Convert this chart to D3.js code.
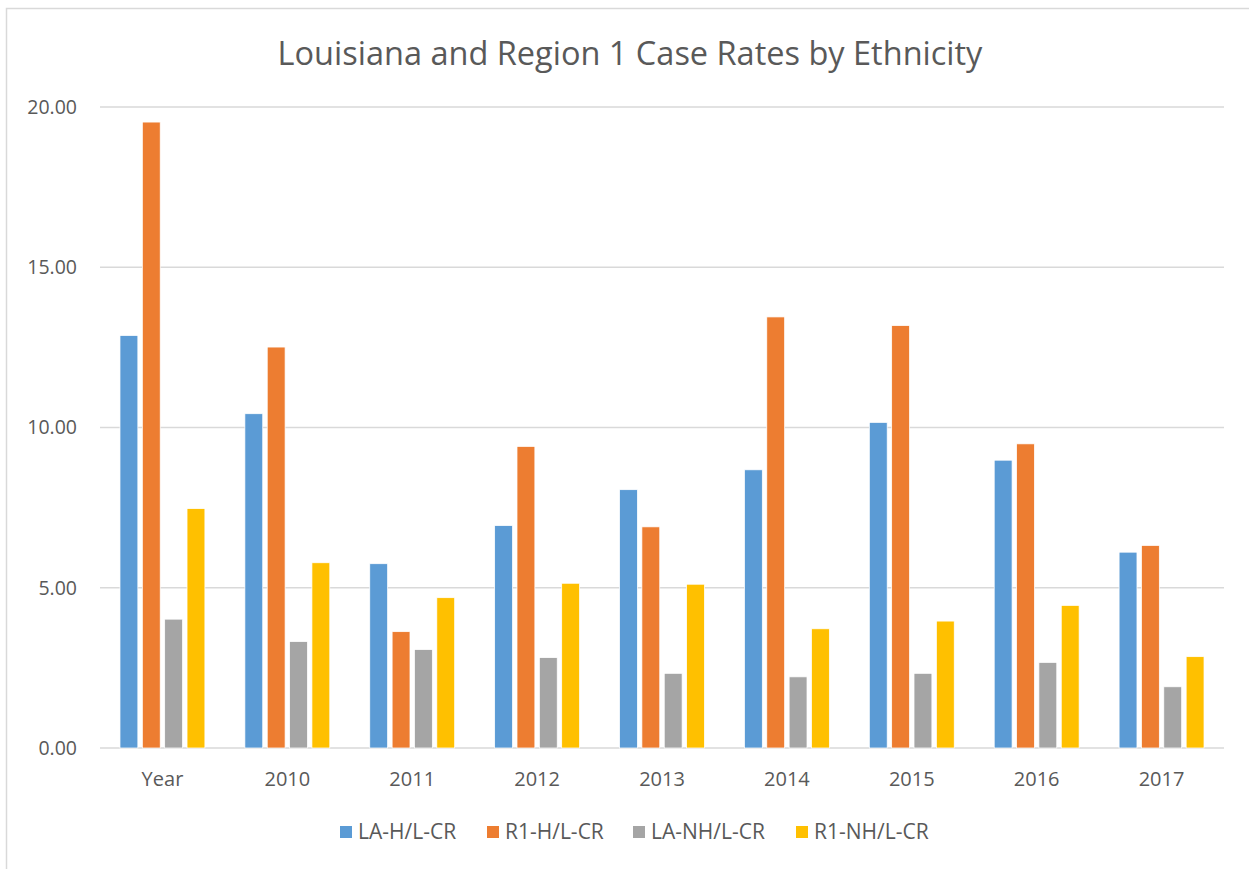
<!DOCTYPE html>
<html>
<head>
<meta charset="utf-8">
<script src="https://cdn.jsdelivr.net/npm/d3@7/dist/d3.min.js"></script>
<style>
  body { margin: 0; background: #fff; }
  text { font-family: "Open Sans", "Noto Sans", sans-serif; fill: #595959; }
</style>
</head>
<body>
<div id="chart"></div>
<script>
// categories and series
var categories = ["Year", "2010", "2011", "2012", "2013", "2014", "2015", "2016", "2017"];
var seriesNames = ["LA-H/L-CR", "R1-H/L-CR", "LA-NH/L-CR", "R1-NH/L-CR"];
var laHL = [12.87, 10.43, 5.75, 6.94, 8.06, 8.68, 10.16, 8.98, 6.11];
var r1HL = [19.53, 12.51, 3.63, 9.41, 6.90, 13.45, 13.18, 9.49, 6.32];
var laNHL = [4.02, 3.32, 3.07, 2.82, 2.33, 2.22, 2.33, 2.67, 1.91];
var r1NHL = [7.47, 5.78, 4.69, 5.14, 5.11, 3.72, 3.96, 4.45, 2.85];
var yTicks = [0, 5, 10, 15, 20];

var colors = ["#5B9BD5", "#ED7D31", "#A5A5A5", "#FFC000"];
var values = [laHL, r1HL, laNHL, r1NHL];

var W = 1249, H = 869;
var m = {left: 100, right: 25, top: 107, bottom: 121};

var svg = d3.select("#chart").append("svg")
    .attr("width", W).attr("height", H);

// chart frame (right and bottom edges fall outside the picture)
svg.append("rect")
    .attr("x", 6.5).attr("y", 8.5)
    .attr("width", W + 20).attr("height", H + 20)
    .attr("fill", "#fff").attr("stroke", "#d9d9d9").attr("stroke-width", 1.5);

var x0 = d3.scaleBand().domain(categories)
    .range([m.left, W - m.right]).paddingInner(0.32).paddingOuter(0.16);
var x1 = d3.scaleBand().domain(d3.range(seriesNames.length))
    .range([0, x0.bandwidth()]).paddingInner(0.2);
var y = d3.scaleLinear().domain([0, 20]).range([H - m.bottom, m.top]);

// gridlines
svg.append("g").selectAll("line").data(yTicks).enter().append("line")
    .attr("x1", m.left).attr("x2", W - m.right)
    .attr("y1", function (d) { return y(d); })
    .attr("y2", function (d) { return y(d); })
    .attr("stroke", "#d9d9d9").attr("stroke-width", 1.5);

// y axis labels
var yAxis = d3.axisLeft(y).tickValues(yTicks).tickSize(0).tickPadding(23)
    .tickFormat(d3.format(".2f"));
var gy = svg.append("g").attr("transform", "translate(" + m.left + ",0)").call(yAxis);
gy.select(".domain").remove();
gy.selectAll("text").style("font-size", "19.5px").attr("fill", "#595959");

// bars
var groups = svg.append("g").selectAll("g").data(categories).enter().append("g")
    .attr("transform", function (d) { return "translate(" + x0(d) + ",0)"; });
groups.selectAll("rect")
    .data(function (d, i) { return values.map(function (s, k) { return {k: k, v: s[i]}; }); })
    .enter().append("rect")
    .attr("x", function (d) { return x1(d.k); })
    .attr("width", x1.bandwidth())
    .attr("y", function (d) { return y(d.v); })
    .attr("height", function (d) { return y(0) - y(d.v); })
    .attr("fill", function (d) { return colors[d.k]; })
    .attr("stroke", "#fff").attr("stroke-width", 0.75);

// x axis labels
var xAxis = d3.axisBottom(x0).tickSize(0).tickPadding(24);
var gx = svg.append("g").attr("transform", "translate(0," + y(0) + ")").call(xAxis);
gx.select(".domain").remove();
gx.selectAll("text").style("font-size", "20px").attr("fill", "#595959");

// title
svg.append("text")
    .attr("x", 630).attr("y", 65)
    .attr("text-anchor", "middle")
    .style("font-size", "32.5px")
    .text("Louisiana and Region 1 Case Rates by Ethnicity");

// legend
var legendX = [340, 487, 633, 796];
var lg = svg.append("g").selectAll("g").data(seriesNames).enter().append("g")
    .attr("transform", function (d, i) { return "translate(" + legendX[i] + ",826)"; });
lg.append("rect").attr("width", 12).attr("height", 12)
    .attr("fill", function (d, i) { return colors[i]; });
lg.append("text").attr("x", 18).attr("y", 6).attr("dy", "0.35em")
    .style("font-size", "21px")
    .text(function (d) { return d; });
</script>
</body>
</html>
